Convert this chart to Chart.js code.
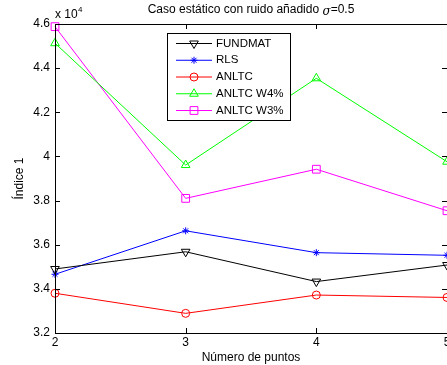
<!DOCTYPE html>
<html lang="es">
<head>
<meta charset="UTF-8">
<script src="https://cdn.jsdelivr.net/npm/chart.js"></script>
<style>
    body { margin: 0; background: #fff; }
    canvas { display: block; }
</style>
</head>
<body>
<canvas id="chart" width="447" height="365"></canvas>
<script>
// Número de puntos
const puntos = [2, 3, 4, 5];
// Índice 1 values
const fundmat = [34900, 35680, 34330, 35080];
const rls = [34660, 36630, 35640, 35520];
const anltc = [33800, 32890, 33720, 33610];
const anltcW4 = [45130, 39610, 43540, 39760];
const anltcW3 = [45880, 38100, 39420, 37540];

const yTicks = [32000, 34000, 36000, 38000, 40000, 42000, 44000, 46000];
const xTicks = [2, 3, 4, 5];

const series = [
    { label: 'FUNDMAT', data: fundmat, color: '#000000', style: 'triangle', radius: 5, rotation: 180 },
    { label: 'RLS', data: rls, color: '#0000ff', style: 'star', radius: 3.5, rotation: 0 },
    { label: 'ANLTC', data: anltc, color: '#ff0000', style: 'circle', radius: 4, rotation: 0 },
    { label: 'ANLTC W4%', data: anltcW4, color: '#00ff00', style: 'triangle', radius: 5, rotation: 0 },
    { label: 'ANLTC W3%', data: anltcW3, color: '#ff00ff', style: 'rect', radius: 5.5, rotation: 0 }
];

const FONT = 'Arial, "Liberation Sans", sans-serif';

const matlabAxes = {
    id: 'matlabAxes',
    afterDraw(chart) {
        const ctx = chart.ctx;
        const a = chart.chartArea;
        const xs = chart.scales.x;
        const ys = chart.scales.y;
        ctx.save();
        ctx.strokeStyle = '#000';
        ctx.lineWidth = 1;
        ctx.strokeRect(Math.round(a.left) + 0.5, Math.round(a.top) + 0.5, Math.round(a.right - a.left), Math.round(a.bottom - a.top));

        // inward ticks
        ctx.beginPath();
        xTicks.forEach(v => {
            const px = Math.round(xs.getPixelForValue(v)) + 0.5;
            ctx.moveTo(px, a.bottom); ctx.lineTo(px, a.bottom - 5);
            ctx.moveTo(px, a.top); ctx.lineTo(px, a.top + 5);
        });
        yTicks.forEach(v => {
            const py = Math.round(ys.getPixelForValue(v)) + 0.5;
            ctx.moveTo(a.left, py); ctx.lineTo(a.left + 5, py);
            ctx.moveTo(a.right, py); ctx.lineTo(a.right - 5, py);
        });
        ctx.stroke();

        // tick labels
        ctx.fillStyle = '#000';
        ctx.font = '12px ' + FONT;
        ctx.textAlign = 'right';
        ctx.textBaseline = 'middle';
        yTicks.forEach(v => {
            ctx.fillText(String(+(v / 10000).toFixed(1)), a.left - 5, ys.getPixelForValue(v));
        });
        ctx.textAlign = 'center';
        ctx.textBaseline = 'middle';
        xTicks.forEach(v => {
            ctx.fillText(String(v), xs.getPixelForValue(v), a.bottom + 10);
        });

        // exponent
        ctx.textAlign = 'left';
        ctx.fillText('x 10', a.left, 15);
        ctx.font = '8px ' + FONT;
        ctx.fillText('4', a.left + 23, 10);

        // title
        ctx.font = '12px ' + FONT;
        const t1 = 'Caso estático con ruido añadido ';
        const t2 = 'σ';
        const t3 = '=0.5';
        const w1 = ctx.measureText(t1).width;
        ctx.font = 'italic 12px "DejaVu Serif", serif';
        const w2 = ctx.measureText(t2).width;
        ctx.font = '12px ' + FONT;
        const w3 = ctx.measureText(t3).width;
        let tx = (a.left + a.right) / 2 - (w1 + w2 + w3) / 2;
        ctx.textAlign = 'left';
        ctx.fillText(t1, tx, 10);
        tx += w1;
        ctx.font = 'italic 12px "DejaVu Serif", serif';
        ctx.fillText(t2, tx, 12);
        tx += w2;
        ctx.font = '12px ' + FONT;
        ctx.fillText(t3, tx, 10);

        // axis titles
        ctx.textAlign = 'center';
        ctx.fillText('Número de puntos', (a.left + a.right) / 2, 358);
        ctx.save();
        ctx.translate(20, (a.top + a.bottom) / 2);
        ctx.rotate(-Math.PI / 2);
        ctx.fillText('Índice 1', 0, 0);
        ctx.restore();

        // legend
        const lx = 167.5, ly = 33.5, lw = 123, lh = 87;
        ctx.fillStyle = '#fff';
        ctx.fillRect(lx, ly, lw, lh);
        ctx.strokeStyle = '#000';
        ctx.strokeRect(lx, ly, lw, lh);
        series.forEach((s, i) => {
            const y = 43.5 + i * 16.75;
            ctx.strokeStyle = s.color;
            ctx.lineWidth = 1;
            ctx.beginPath();
            ctx.moveTo(176, y); ctx.lineTo(212, y);
            ctx.stroke();
            ctx.fillStyle = 'rgba(0,0,0,0)';
            Chart.helpers.drawPoint(ctx, {
                pointStyle: s.style, radius: s.radius, rotation: s.rotation, borderWidth: 1
            }, 194, y);
            ctx.fillStyle = '#000';
            ctx.font = '11.5px ' + FONT;
            ctx.textAlign = 'left';
            ctx.textBaseline = 'middle';
            ctx.fillText(s.label, 216, y);
        });
        ctx.restore();
    }
};

new Chart(document.getElementById('chart'), {
    type: 'line',
    data: {
        labels: puntos,
        datasets: series.map(s => ({
            label: s.label,
            data: puntos.map((x, i) => ({ x: x, y: s.data[i] })),
            borderColor: s.color,
            backgroundColor: 'rgba(0,0,0,0)',
            borderWidth: 1,
            pointStyle: s.style,
            pointRadius: s.radius,
            pointRotation: s.rotation,
            pointBorderWidth: 1,
            pointBorderColor: s.color,
            pointBackgroundColor: 'rgba(0,0,0,0)',
            tension: 0,
            clip: false
        }))
    },
    options: {
        responsive: false,
        animation: false,
        layout: { autoPadding: false, padding: { top: 24, right: 0, bottom: 0, left: 0 } },
        plugins: { legend: { display: false }, title: { display: false }, tooltip: { enabled: false } },
        scales: {
            x: {
                type: 'linear', min: 2, max: 5,
                grid: { display: false }, border: { display: false },
                ticks: { display: false },
                afterFit: s => { s.height = 32; }
            },
            y: {
                min: 32000, max: 46000,
                grid: { display: false }, border: { display: false },
                ticks: { display: false },
                afterFit: s => { s.width = 55; }
            }
        }
    },
    plugins: [matlabAxes]
});
</script>
</body>
</html>
